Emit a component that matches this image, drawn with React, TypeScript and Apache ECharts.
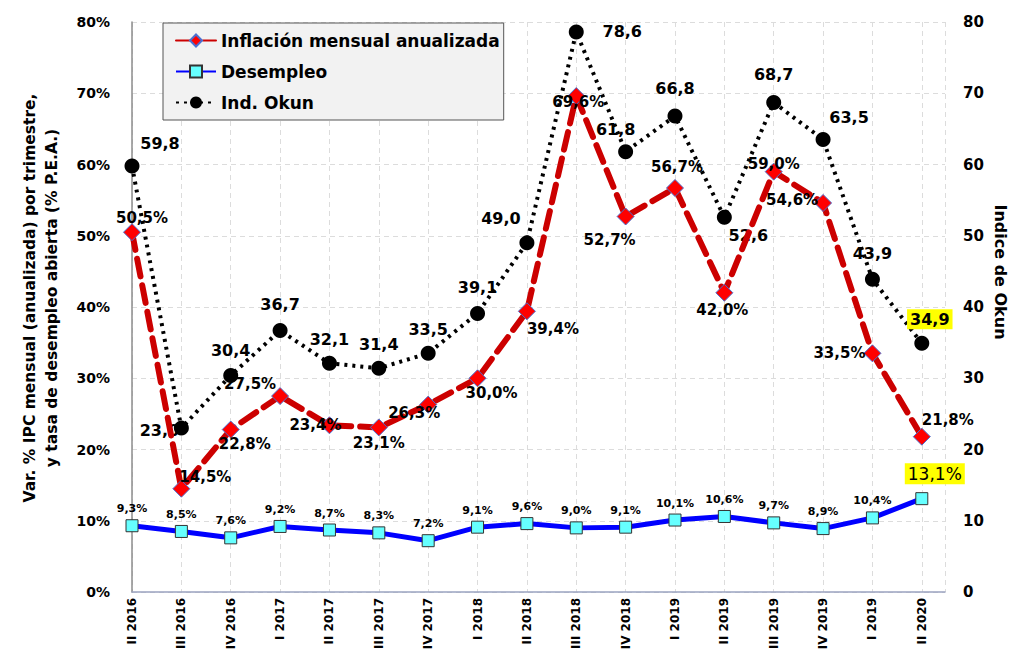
import React, { useEffect, useRef } from "react";
import * as echarts from "echarts";

const categories = ["II 2016", "III 2016", "IV 2016", "I 2017", "II 2017", "III 2017", "IV 2017", "I 2018", "II 2018", "III 2018", "IV 2018", "I 2019", "II 2019", "III 2019", "IV 2019", "I 2019", "II 2020"];
const inflacion = [50.5, 14.5, 22.8, 27.5, 23.4, 23.1, 26.3, 30.0, 39.4, 69.6, 52.7, 56.7, 42.0, 59.0, 54.6, 33.5, 21.8];
const desempleo = [9.3, 8.5, 7.6, 9.2, 8.7, 8.3, 7.2, 9.1, 9.6, 9.0, 9.1, 10.1, 10.6, 9.7, 8.9, 10.4, 13.1];
const okun = [59.8, 23.0, 30.4, 36.7, 32.1, 31.4, 33.5, 39.1, 49.0, 78.6, 61.8, 66.8, 52.6, 68.7, 63.5, 43.9, 34.9];
const leftTicks = [0, 10, 20, 30, 40, 50, 60, 70, 80];

// label offsets (layout only)
const inflOff: [number, number][] = [
  [10, -14], [24, -12], [14, 14], [-30, -12], [-14, 0], [0, 16], [-14, 8], [14, 15], [26, 18],
  [2, 6], [-16, 23], [2, -21], [-2, 17], [0, -8], [-31, -3], [-33, 0], [26, -17],
];
const okunOff: [number, number][] = [
  [28, -22], [-22, 2], [0, -25], [0, -26], [0, -24], [0, -24], [0, -24], [0, -26], [-26, -24],
  [46, 0], [-10, -22], [0, -28], [24, 18], [0, -28], [26, -22], [0, -26], [8, -24],
];

const FONT = "DejaVu Sans";
const fmt = (v: number, pct: boolean) => v.toFixed(1).replace(".", ",") + (pct ? "%" : "");

export default function App() {
  const ref = useRef<HTMLDivElement>(null);
  useEffect(() => {
    if (!ref.current) return;
    const chart = echarts.init(ref.current, undefined, { renderer: "svg" });
    const last = categories.length - 1;

    const inflData = inflacion.map((v, i) => ({
      value: [i, v],
      label: { offset: inflOff[i] },
    }));
    const desData = desempleo.map((v, i) => {
      const item: any = { value: [i, v] };
      if (i === last) {
        item.label = {
          position: "inside",
          offset: [13, -25],
          backgroundColor: "#ffff00",
          padding: [3, 3, 1, 3],
          fontSize: 17,
          fontWeight: "normal",
          color: "#000",
        };
      }
      return item;
    });
    const okunData = okun.map((v, i) => {
      const item: any = { value: [i, v], label: { offset: okunOff[i] } };
      if (i === last) {
        item.label = {
          offset: okunOff[i],
          backgroundColor: "#ffff00",
          padding: [3, 3, 1, 3],
        };
      }
      return item;
    });

    chart.setOption({
      animation: false,
      backgroundColor: "#ffffff",
      grid: { left: 132, right: 65, top: 22, bottom: 59, containLabel: false, outerBoundsMode: "none" },
      legend: {
        orient: "vertical",
        left: 163,
        top: 23,
        padding: [9, 4, 9, 12],
        itemGap: 14,
        itemWidth: 40,
        itemHeight: 15,
        backgroundColor: "#f2f2f2",
        borderColor: "#555555",
        borderWidth: 1,
        textStyle: { fontFamily: FONT, fontWeight: "bold", fontSize: 17, color: "#000" },
        data: ["Inflación mensual anualizada", "Desempleo", "Ind. Okun"],
      },
      xAxis: {
        type: "value",
        min: 0,
        max: 16.47,
        interval: 1,
        axisLine: { show: true, lineStyle: { color: "#9aa3c0", width: 1.5 } },
        axisTick: { show: false },
        splitLine: { show: true, lineStyle: { color: "#dcdcdc", type: [5, 4] } },
        axisLabel: {
          rotate: 90,
          margin: 6,
          fontFamily: FONT,
          fontWeight: "bold",
          fontSize: 12,
          color: "#000",
          showMaxLabel: false,
          hideOverlap: false,
          formatter: (v: number) => (Number.isInteger(v) && categories[v] !== undefined ? categories[v] : ""),
        },
      },
      yAxis: [
        {
          type: "value",
          min: 0,
          max: 80,
          interval: 10,
          axisLine: { show: true, lineStyle: { color: "#8c8c8c", width: 1.5 } },
          axisTick: { show: false },
          splitLine: { show: true, lineStyle: { color: "#dcdcdc", type: [5, 4] } },
          axisLabel: {
            margin: 22,
            fontFamily: FONT,
            fontWeight: "bold",
            fontSize: 14,
            color: "#000",
            formatter: (v: number) => (leftTicks.includes(v) ? v + "%" : ""),
          },
        },
        {
          type: "value",
          min: 0,
          max: 80,
          interval: 10,
          axisLine: { show: false },
          axisTick: { show: false },
          splitLine: { show: false },
          axisLabel: {
            margin: 18,
            fontFamily: FONT,
            fontWeight: "bold",
            fontSize: 15,
            color: "#000",
          },
        },
      ],
      series: [
        {
          name: "Inflación mensual anualizada",
          type: "line",
          yAxisIndex: 0,
          data: inflData,
          z: 3,
          symbol: "diamond",
          symbolSize: 17,
          itemStyle: { color: "#ff0000", borderColor: "#4a6fd0", borderWidth: 1 },
          lineStyle: { color: "#cc0000", width: 6, type: [18, 9], cap: "round" },
          label: {
            show: true,
            position: "inside",
            fontFamily: FONT,
            fontWeight: "bold",
            fontSize: 15,
            color: "#000",
            formatter: (p: any) => fmt(p.value[1], true),
          },
        },
        {
          name: "Desempleo",
          type: "line",
          yAxisIndex: 0,
          data: desData,
          z: 4,
          symbol: "rect",
          symbolSize: 12,
          itemStyle: { color: "#66ffff", borderColor: "#333333", borderWidth: 1 },
          lineStyle: { color: "#0000ff", width: 5 },
          label: {
            show: true,
            position: "top",
            distance: 5,
            fontFamily: FONT,
            fontWeight: "bold",
            fontSize: 11,
            color: "#000",
            formatter: (p: any) => fmt(p.value[1], true),
          },
        },
        {
          name: "Ind. Okun",
          type: "line",
          yAxisIndex: 1,
          data: okunData,
          z: 2,
          symbol: "circle",
          symbolSize: 15,
          itemStyle: { color: "#000000" },
          lineStyle: { color: "#000000", width: 4, type: [3, 5] },
          label: {
            show: true,
            position: "inside",
            fontFamily: FONT,
            fontWeight: "bold",
            fontSize: 16,
            color: "#000",
            formatter: (p: any) => fmt(p.value[1], false),
          },
        },
      ],
      graphic: [
        {
          type: "text",
          x: 41,
          y: 298,
          rotation: Math.PI / 2,
          style: {
            text: "Var. % IPC mensual (anualizada) por trimestre,\ny tasa de desempleo abierta (% P.E.A.)",
            font: `bold 15.5px "${FONT}"`,
            fill: "#000",
            textAlign: "center",
            textVerticalAlign: "middle",
            lineHeight: 22,
          },
        },
        {
          type: "text",
          x: 1000,
          y: 272,
          rotation: -Math.PI / 2,
          style: {
            text: "Indice de Okun",
            font: `bold 16px "${FONT}"`,
            fill: "#000",
            textAlign: "center",
            textVerticalAlign: "middle",
          },
        },
      ],
    });
    return () => chart.dispose();
  }, []);
  return <div ref={ref} style={{ width: 1010, height: 651, position: "absolute", left: 0, top: 0 }} />;
}
